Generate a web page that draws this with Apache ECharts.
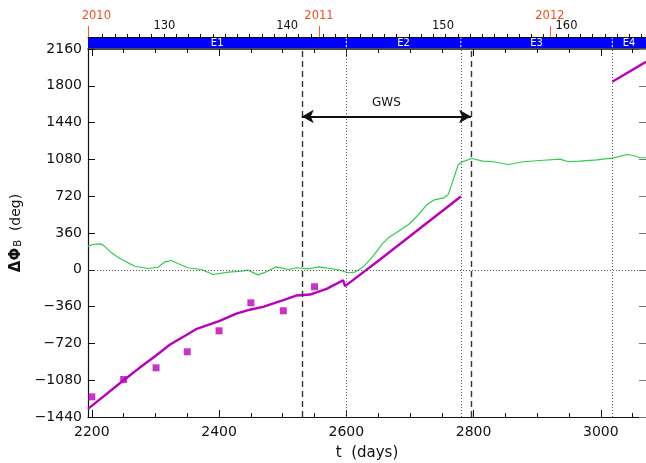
<!DOCTYPE html>
<html><head><meta charset="utf-8">
<script src="https://cdn.jsdelivr.net/npm/echarts@6/dist/echarts.min.js"></script>
<style>html,body{margin:0;padding:0;background:#fff}#c{width:646px;height:463px}</style>
</head><body><div id="c"></div>
<script>
// ---- axis ranges & tick labels ----
const X_MIN = 2194, X_MAX = 3071;
const Y_MIN = -1440, Y_MAX = 2160, Y_STEP = 360;
const xMajorTicks = [2200, 2400, 2600, 2800, 3000];
const xMinorTicks = [2250, 2300, 2350, 2450, 2500, 2550, 2650, 2700, 2750, 2850, 2900, 2950, 3050];
const rotLabels = ['130', '140', '150', '160'];
const rotLabelDays = [2314, 2507, 2752, 2946];
const rotTickStart = 2217, rotTickStep = 19.25;
const yearLabels = ['2010', '2011', '2012'];
const yearDays = [2194.5, 2557, 2920];

// ---- epochs / events ----
const epochNames = ['E1', 'E2', 'E3', 'E4'];
const epochBounds = [2194, 2600, 2780, 3018, 3071];
const gwsStart = 2530, gwsEnd = 2796, gwsLevel = 1500;

// ---- green curve ----
const greenDays = [2194, 2202, 2213, 2218, 2231, 2241, 2257, 2268, 2288, 2304, 2315, 2325, 2336, 2351, 2372, 2391, 2415, 2435, 2446, 2451, 2461, 2472, 2480, 2490, 2509, 2522, 2543, 2556, 2577, 2590, 2603, 2613, 2627, 2642, 2656, 2666, 2682, 2698, 2711, 2727, 2737, 2753, 2760, 2768, 2776, 2781, 2797, 2815, 2831, 2855, 2878, 2904, 2936, 2949, 2967, 2994, 3020, 3041, 3051, 3062, 3071];
const greenDeg  = [231, 248, 254, 241, 166, 123, 68, 35, 13, 25, 78, 91, 59, 20, 3, -46, -23, -14, -4, -20, -50, -25, 0, 29, 3, 20, 10, 29, 10, -4, -29, -23, 29, 133, 248, 313, 378, 443, 524, 639, 681, 704, 735, 880, 1030, 1053, 1089, 1063, 1057, 1030, 1057, 1069, 1082, 1057, 1063, 1076, 1095, 1128, 1118, 1096, 1096];

// ---- magenta curve (null = gap) ----
const magDays = [2194, 2250, 2275, 2301, 2323, 2350, 2365, 2400, 2427, 2450, 2469, 2501, 2522, 2543, 2569, 2595, 2598, 2653, 2780, 2900, 3018, 3071];
const magDeg  = [-1360, -1080, -959, -839, -731, -633, -577, -503, -428, -388, -362, -297, -251, -242, -186, -102, -160, 101, 717, null, 1840, 2035];

// ---- magenta squares ----
const sqDays = [2200, 2250, 2301, 2350, 2400, 2450, 2501, 2550];
const sqDeg  = [-1243, -1073, -959, -802, -597, -323, -401, -166];

const FONT = 'DejaVu Sans';
const zip = (a, b) => a.map((v, i) => [v, b[i]]);
const rotTickDays = [];
for (let d = rotTickStart; d <= X_MAX; d += rotTickStep) rotTickDays.push(d);
const fmtY = v => v < 0 ? '\u2212' + Math.abs(v) : String(v);

const baseX = (extra) => Object.assign({
  type: 'value', min: X_MIN, max: X_MAX, gridIndex: 0,
  splitLine: { show: false },
  axisLine: { onZero: false, show: false },
  axisTick: { show: false },
  axisLabel: { show: false }
}, extra);

const epochData = epochNames.map((n, i) => [epochBounds[i], epochBounds[i + 1]]);

const option = {
  animation: false,
  textStyle: { fontFamily: FONT },
  grid: [
    { left: 88, right: 0, top: 49, bottom: 46, outerBoundsMode: 'none', containLabel: false },
    { left: 88, right: 0, top: 37, height: 11, outerBoundsMode: 'none', containLabel: false }
  ],
  xAxis: [
    baseX({
      position: 'bottom',
      axisLine: { onZero: false, show: true, lineStyle: { color: '#111', width: 1.2 } },
      axisTick: { show: true, inside: true, length: 7, customValues: xMajorTicks, lineStyle: { color: '#111' } },
      axisLabel: { show: true, customValues: xMajorTicks, margin: 8, fontSize: 14, color: '#111', fontFamily: FONT, formatter: v => String(v) },
      name: 't  (days)', nameLocation: 'middle', nameGap: 29,
      nameTextStyle: { fontSize: 15, color: '#111', fontFamily: FONT }
    }),
    baseX({
      position: 'bottom',
      axisTick: { show: true, inside: true, length: 4, customValues: xMinorTicks, lineStyle: { color: '#111' } }
    }),
    baseX({
      position: 'top',
      axisLine: { onZero: false, show: true, lineStyle: { color: '#111', width: 1.5 } },
      axisTick: { show: true, inside: true, length: 7, customValues: xMajorTicks, lineStyle: { color: '#111' } }
    }),
    baseX({
      position: 'top',
      axisTick: { show: true, inside: true, length: 4, customValues: xMinorTicks, lineStyle: { color: '#111' } }
    }),
    baseX({
      gridIndex: 1, position: 'top', z: 10,
      axisLine: { onZero: false, show: true, lineStyle: { color: '#111', width: 1 } },
      axisTick: { show: true, inside: false, length: 3, customValues: rotTickDays, lineStyle: { color: '#111' } },
      axisLabel: {
        show: true, customValues: rotLabelDays, margin: 5, fontSize: 11.5, color: '#111', fontFamily: FONT,
        formatter: v => rotLabels[rotLabelDays.indexOf(v)]
      }
    }),
    baseX({
      gridIndex: 1, position: 'top', z: 11,
      axisTick: { show: true, inside: false, length: 11, customValues: yearDays, lineStyle: { color: '#ff5a28', width: 1 } },
      axisLabel: {
        show: true, customValues: yearDays, margin: 15, fontSize: 11.5, color: '#f24f1e', fontFamily: FONT,
        formatter: v => { const i = yearDays.indexOf(v); return i === 0 ? '{f|' + yearLabels[i] + '}' : yearLabels[i]; },
        rich: { f: { padding: [0, 0, 0, 16], fontSize: 11.5, color: '#f24f1e', fontFamily: FONT } }
      }
    })
  ],
  yAxis: [
    {
      type: 'value', gridIndex: 0, position: 'left', min: Y_MIN, max: Y_MAX, interval: Y_STEP,
      splitLine: { show: false },
      axisLine: { onZero: false, show: true, lineStyle: { color: '#111', width: 1.2 } },
      axisTick: { show: true, inside: true, length: 7, lineStyle: { color: '#111' } },
      axisLabel: { formatter: fmtY, fontSize: 14, color: '#111', margin: 6, fontFamily: FONT },
      name: '{b|\u0394\u03A6}{s|B}{n|  (deg)}', nameLocation: 'middle', nameGap: 60, nameRotate: 90,
      nameTextStyle: {
        rich: {
          b: { fontSize: 15, fontWeight: 'bold', color: '#111', fontFamily: FONT, verticalAlign: 'bottom' },
          s: { fontSize: 10, color: '#111', fontFamily: FONT, padding: [6, 0, 0, 1], verticalAlign: 'bottom' },
          n: { fontSize: 14, color: '#111', fontFamily: FONT, verticalAlign: 'bottom' }
        }
      }
    },
    {
      type: 'value', gridIndex: 0, position: 'right', min: Y_MIN, max: Y_MAX, interval: Y_STEP,
      splitLine: { show: false },
      axisLine: { onZero: false, show: false },
      axisTick: { show: true, inside: true, length: 7, lineStyle: { color: '#777' } },
      axisLabel: { show: false }
    },
    { type: 'value', gridIndex: 1, min: 0, max: 1, show: false }
  ],
  series: [
    {
      type: 'custom', xAxisIndex: 4, yAxisIndex: 2, data: epochData, z: 2,
      renderItem: (params, api) => {
        const p0 = api.coord([api.value(0), 1]);
        const p1 = api.coord([api.value(1), 0]);
        const children = [
          { type: 'rect', shape: { x: p0[0], y: p0[1], width: p1[0] - p0[0], height: p1[1] - p0[1] }, style: { fill: '#0000ff' } },
          { type: 'text', style: { text: epochNames[params.dataIndex], x: (p0[0] + p1[0]) / 2, y: (p0[1] + p1[1]) / 2 + 0.5, fill: '#fff', align: 'center', verticalAlign: 'middle', font: '10px "DejaVu Sans"' } }
        ];
        if (params.dataIndex > 0) {
          children.push({ type: 'line', shape: { x1: p0[0], y1: p0[1], x2: p0[0], y2: p1[1] }, style: { stroke: '#ffffff', lineWidth: 1, lineDash: [2, 2] } });
        }
        return { type: 'group', children };
      }
    },
    {
      name: 'green', type: 'line', xAxisIndex: 0, yAxisIndex: 0,
      data: zip(greenDays, greenDeg), showSymbol: false, symbol: 'none',
      lineStyle: { color: '#2fcc4c', width: 1.2 }, z: 3,
      markLine: {
        silent: true, symbol: ['none', 'none'], animation: false,
        label: { show: false },
        data: [
          { xAxis: gwsStart, lineStyle: { color: '#333', type: [6, 4], width: 1.4 } },
          { xAxis: gwsEnd, lineStyle: { color: '#333', type: [6, 4], width: 1.4 } },
          { xAxis: epochBounds[1], lineStyle: { color: '#555', type: [1, 2], width: 1 } },
          { xAxis: epochBounds[2], lineStyle: { color: '#555', type: [1, 2], width: 1 } },
          { xAxis: epochBounds[3], lineStyle: { color: '#555', type: [1, 2], width: 1 } },
          { yAxis: 0, lineStyle: { color: '#555', type: [1, 2], width: 1 } },
          [
            { coord: [gwsStart, gwsLevel], symbol: 'arrow', symbolSize: [10, 12] },
            { coord: [gwsEnd, gwsLevel], symbol: 'arrow', symbolSize: [10, 12],
              lineStyle: { color: '#111', type: 'solid', width: 2 },
              label: { show: true, position: 'middle', formatter: 'GWS', distance: 8, color: '#111', fontSize: 12, fontFamily: FONT } }
          ]
        ]
      }
    },
    {
      name: 'magenta', type: 'line', xAxisIndex: 0, yAxisIndex: 0,
      data: zip(magDays, magDeg), showSymbol: false, symbol: 'none', connectNulls: false,
      lineStyle: { color: '#bb00bb', width: 2.4 }, z: 4
    },
    {
      name: 'squares', type: 'scatter', xAxisIndex: 0, yAxisIndex: 0,
      data: zip(sqDays, sqDeg), symbol: 'rect', symbolSize: 7,
      itemStyle: { color: '#bb00bb' }, z: 5
    }
  ]
};
const chart = echarts.init(document.getElementById('c'), null, { renderer: 'canvas' });
chart.setOption(option);
</script></body></html>
